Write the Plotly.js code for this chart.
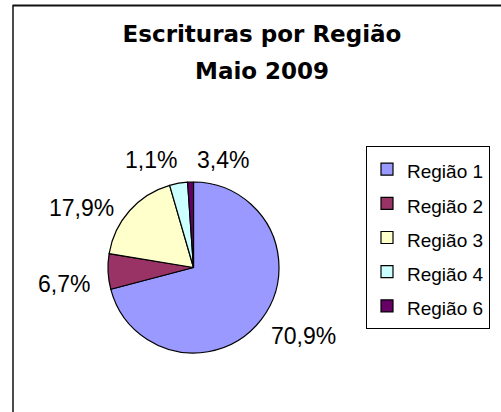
<!DOCTYPE html>
<html>
<head>
<meta charset="utf-8">
<script src="https://cdn.plot.ly/plotly-3.0.1.min.js"></script>
<style>html,body{margin:0;padding:0;background:#fff;}#chart{width:501px;height:412px;}</style>
</head>
<body>
<div id="chart"></div>
<script>
// Data
var regions = ["Região 1", "Região 2", "Região 3", "Região 4", "Região 6"];
var shares = [70.9, 6.7, 17.9, 3.4, 1.1];
var sliceColors = ["#9999FF", "#993366", "#FFFFCC", "#CCFFFF", "#660066"];
var titleLines = ["Escrituras por Região", "Maio 2009"];

// Label positions (pixels in the 501x412 frame) for each region's percent label
var labelPos = [[303, 336], [64, 284], [81, 208], [223, 160], [151, 160]];

var W = 501, H = 412;
function px(x) { return x / W; }
function py(y) { return 1 - y / H; }

function fmtPct(v) { return v.toFixed(1).replace('.', ',') + '%'; }

var legendLabels = regions.map(function (r) {
  return '<span style="font-size:19px">' + r + '</span>';
});

var trace = {
  type: 'pie',
  labels: legendLabels,
  values: shares,
  sort: false,
  direction: 'clockwise',
  rotation: 0,
  marker: { colors: sliceColors, line: { color: '#000000', width: 1.2 } },
  textinfo: 'none',
  hoverinfo: 'label+percent',
  domain: { x: [px(108), px(279)], y: [py(353), py(182)] },
  showlegend: true
};

var titleFont = { family: 'DejaVu Sans, sans-serif', size: 23, color: '#000000', weight: 'bold' };

var annotations = shares.map(function (v, i) {
  return {
    xref: 'paper', yref: 'paper',
    x: px(labelPos[i][0]), y: py(labelPos[i][1]),
    xanchor: 'center', yanchor: 'middle',
    text: fmtPct(v),
    showarrow: false,
    font: { family: 'Liberation Sans, Arial, sans-serif', size: 23, color: '#000000' }
  };
});
annotations.push({
  xref: 'paper', yref: 'paper',
  x: px(262), y: py(71.5), xanchor: 'center', yanchor: 'middle',
  text: '<b>' + titleLines[1] + '</b>', showarrow: false, font: titleFont
});

var layout = {
  width: W, height: H,
  margin: { l: 0, r: 0, t: 0, b: 0 },
  paper_bgcolor: '#ffffff',
  title: {
    text: titleLines[0],
    font: titleFont,
    x: px(262), xanchor: 'center', xref: 'paper',
    y: py(34), yanchor: 'middle', yref: 'container'
  },
  legend: {
    x: px(366), y: py(146), xanchor: 'left', yanchor: 'top',
    bordercolor: '#000000', borderwidth: 1, bgcolor: '#ffffff',
    font: { family: 'Liberation Sans, Arial, sans-serif', size: 24, color: '#000000' },
    traceorder: 'normal'
  },
  annotations: annotations,
  shapes: [
    { type: 'line', xref: 'paper', yref: 'paper',
      x0: px(12.5), x1: 1, y0: py(5.5), y1: py(5.5),
      line: { color: '#111111', width: 2 }, layer: 'above' },
    { type: 'line', xref: 'paper', yref: 'paper',
      x0: px(13), x1: px(13), y0: 0, y1: py(5.5),
      line: { color: '#111111', width: 1.5 }, layer: 'above' }
  ]
};

Plotly.newPlot('chart', [trace], layout, { displayModeBar: false, staticPlot: true });
</script>
</body>
</html>
